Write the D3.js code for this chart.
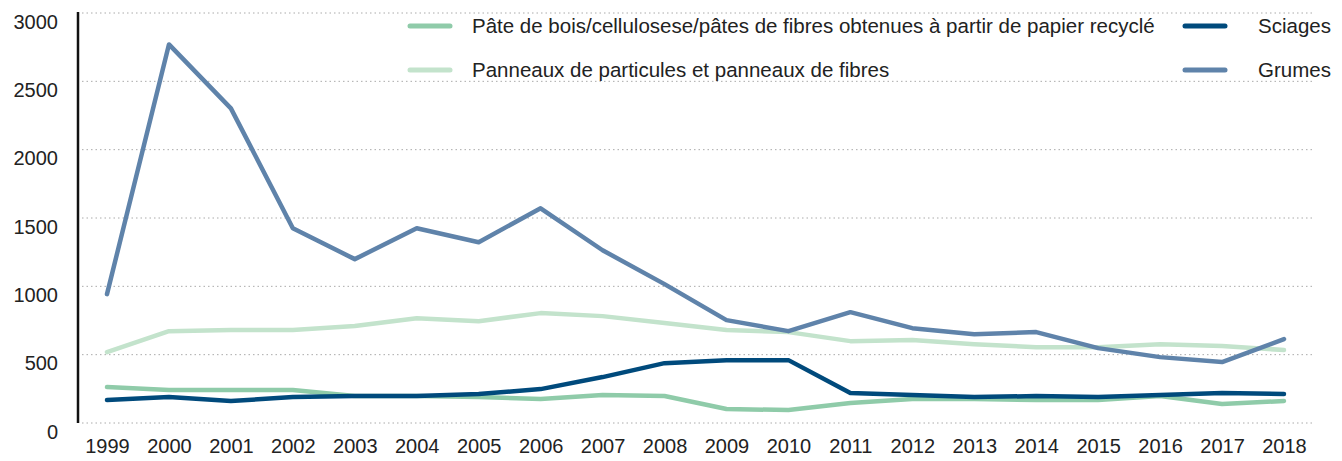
<!DOCTYPE html>
<html><head><meta charset="utf-8">
<script src="https://cdn.jsdelivr.net/npm/d3@7/dist/d3.min.js"></script>
<style>
body{margin:0;background:#fff;}
text{font-family:"Liberation Sans",Arial,sans-serif;fill:#222;}
</style></head>
<body><svg id="c" width="1342" height="461"></svg>
<script>
const years = [1999,2000,2001,2002,2003,2004,2005,2006,2007,2008,2009,2010,2011,2012,2013,2014,2015,2016,2017,2018];
const pate = [263,241,241,241,197,197,190,175,205,197,102,95,146,175,175,168,168,197,139,161];
const panneaux = [519,672,680,680,709,767,745,804,782,731,680,665,599,607,577,555,555,577,563,534];
const sciages = [168,190,161,190,197,197,212,248,336,438,460,460,219,205,190,197,190,205,219,212];
const grumes = [943,2770,2302,1425,1199,1425,1323,1571,1264,1016,753,672,811,694,650,665,548,482,446,614];
const yTicks = [0,500,1000,1500,2000,2500,3000];
const seriesNames = ["Pâte de bois/cellulosese/pâtes de fibres obtenues à partir de papier recyclé","Sciages","Panneaux de particules et panneaux de fibres","Grumes"];

const svg = d3.select("#c");
const x = d3.scalePoint().domain(years).range([107,1284]);
const y = d3.scaleLinear().domain([0,3000]).range([423,13]);

// gridlines
svg.append("g").selectAll("line").data(yTicks).join("line")
  .attr("x1",82).attr("x2",1312).attr("y1",d=>y(d)).attr("y2",d=>y(d))
  .attr("stroke","#aaa").attr("stroke-width",1).attr("stroke-dasharray","1.5,3");

// y axis
const yAxis = d3.axisLeft(y).tickValues(yTicks).tickFormat(d3.format("d")).tickSize(0).tickPadding(20);
const ga = svg.append("g").attr("transform","translate(78,0)").call(yAxis);
ga.select(".domain").attr("stroke","#111").attr("stroke-width",2.5).attr("d","M0,12V423");
ga.selectAll("text").attr("font-size",20).attr("font-family","Liberation Sans, Arial, sans-serif").attr("fill","#222")
  .attr("dy","0.35em").attr("y",8);

// x axis
const xAxis = d3.axisBottom(x).tickFormat(d3.format("d")).tickSize(0).tickPadding(0);
const gx = svg.append("g").attr("transform","translate(0,439)").call(xAxis);
gx.select(".domain").remove();
gx.selectAll("text").attr("font-size",20).attr("font-family","Liberation Sans, Arial, sans-serif").attr("fill","#222").attr("dy","0.7em");

const line = d3.line().x((d,i)=>x(years[i])).y(d=>y(d));
const series = [
  {vals:panneaux,color:"#c3e3cc"},
  {vals:pate,color:"#8fcba9"},
  {vals:sciages,color:"#004a7c"},
  {vals:grumes,color:"#5f83aa"}
];
svg.append("g").selectAll("path").data(series).join("path")
  .attr("d",d=>line(d.vals)).attr("fill","none").attr("stroke",d=>d.color)
  .attr("stroke-width",4.5).attr("stroke-linejoin","round").attr("stroke-linecap","round");

// legend
const legend = [
  {name:seriesNames[0],color:"#8fcba9",x:410,y:26},
  {name:seriesNames[1],color:"#004a7c",x:1185,y:26},
  {name:seriesNames[2],color:"#c3e3cc",x:410,y:70},
  {name:seriesNames[3],color:"#5f83aa",x:1185,y:70}
];
const lg = svg.append("g").selectAll("g").data(legend).join("g").attr("transform",d=>`translate(${d.x},${d.y})`);
lg.append("line").attr("x1",0).attr("x2",40).attr("stroke",d=>d.color).attr("stroke-width",5).attr("stroke-linecap","round");
lg.append("text").attr("x",d=>d.x<1000?62:73).attr("dy","0.35em").attr("font-size",20.5).text(d=>d.name);
</script></body></html>
